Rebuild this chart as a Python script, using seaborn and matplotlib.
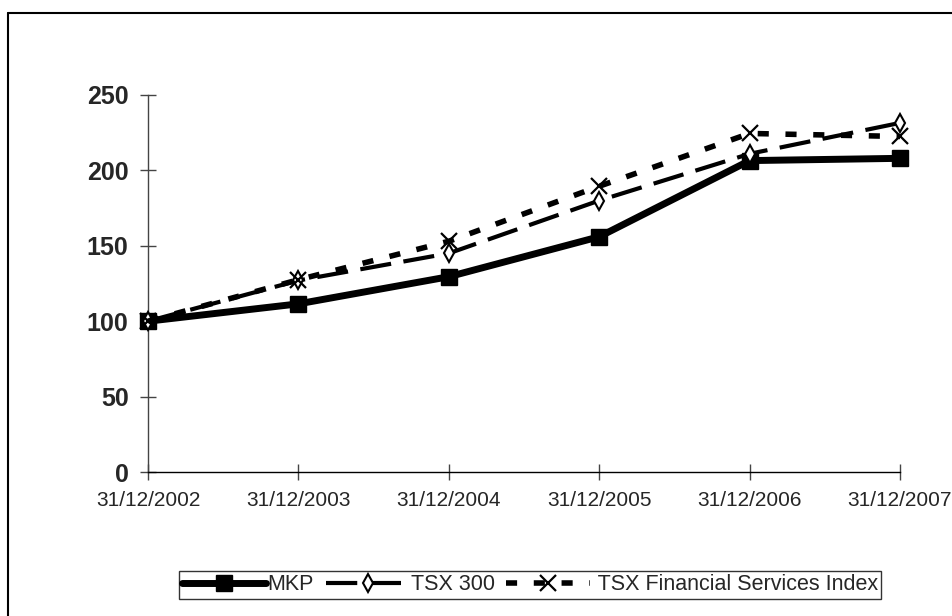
import matplotlib
matplotlib.use("Agg")
import matplotlib.pyplot as plt
import numpy as np
import pandas as pd
import seaborn as sns
from matplotlib.lines import Line2D

DATES = ["31/12/2002", "31/12/2003", "31/12/2004", "31/12/2005", "31/12/2006", "31/12/2007"]
MKP = [100, 111.5, 129.5, 156, 206.5, 208]
TSX_300 = [100, 127, 145, 180, 211, 231.5]
TSX_FIN = [100, 127.5, 153, 189.5, 224.5, 222.5]
SERIES = ["MKP", "TSX 300", "TSX Financial Services Index"]
LEGEND_LABELS = ["MKP", "TSX 300", " TSX Financial Services Index"]
YTICKS = [0, 50, 100, 150, 200, 250]

STYLES = {
    "MKP": dict(lw=5, ls="-", marker="s", ms=11, mfc="black", mec="black", mew=1),
    "TSX 300": dict(lw=3, ls=(0, (7.5, 3)), marker="d", ms=9, mfc="white", mec="black", mew=1.5),
    "TSX Financial Services Index": dict(lw=4, ls=(0, (2, 3)), marker="x", ms=11, mfc="black", mec="black", mew=1.6),
}

df = pd.DataFrame({
    "pos": list(range(len(DATES))) * 3,
    "value": MKP + TSX_300 + TSX_FIN,
    "series": [s for s in SERIES for _ in DATES],
})

sns.set_theme(style="white")
plt.rcParams["font.family"] = ["Liberation Sans", "DejaVu Sans"]

fig = plt.figure(figsize=(9.53, 6.16), dpi=100)
ax = fig.add_axes([148 / 953, 1 - 472 / 616, 752 / 953, 377 / 616])

sns.lineplot(data=df, x="pos", y="value", hue="series", hue_order=SERIES,
             palette=["black"] * 3, legend=False, ax=ax)
for line, name in zip(ax.get_lines(), SERIES):
    st = STYLES[name]
    line.set_linewidth(st["lw"])
    line.set_linestyle(st["ls"])
    line.set_marker(st["marker"])
    line.set_markersize(st["ms"])
    line.set_markerfacecolor(st["mfc"])
    line.set_markeredgecolor(st["mec"])
    line.set_markeredgewidth(st["mew"])
    line.set_clip_on(False)
    line.set_zorder(3 if name != "MKP" else 2)

ax.set_xlim(0, len(DATES) - 1)
ax.set_ylim(0, 250)
ax.set_yticks(YTICKS)
ax.set_xticks(range(len(DATES)))
ax.set_xticklabels(DATES, fontsize=15)
ax.set_yticklabels([str(v) for v in YTICKS], fontsize=18, fontweight="bold")
ax.set_xlabel("")
ax.set_ylabel("")
for s in ["top", "right"]:
    ax.spines[s].set_visible(False)
ax.spines["left"].set_color("#444444")
ax.spines["bottom"].set_color("black")
for s in ["left", "bottom"]:
    ax.spines[s].set_linewidth(1.0)
ax.tick_params(axis="both", direction="inout", length=12, width=1, color="#444444",
               bottom=True, left=True)
ax.tick_params(axis="x", pad=8)
ax.tick_params(axis="y", pad=8)

handles = []
for name in SERIES:
    st = STYLES[name]
    handles.append(Line2D([], [], color="black", lw=st["lw"], ls=st["ls"],
                          marker=st["marker"], ms=st["ms"], mfc=st["mfc"],
                          mec=st["mec"], mew=st["mew"]))
leg = fig.legend(handles, LEGEND_LABELS, loc="center", ncol=3,
                 bbox_to_anchor=(530 / 953, 1 - 585 / 616), frameon=True,
                 fancybox=False, edgecolor="black", fontsize=15.5,
                 handlelength=3.9, handletextpad=0.05, columnspacing=0.55,
                 borderpad=0.15, borderaxespad=0)
leg.get_frame().set_linewidth(1.0)

# outer chart frame (only the left and top edges fall inside the image)
fig.add_artist(Line2D([8 / 953, 8 / 953], [0, 1 - 13 / 616], color="black", lw=1.5,
                      transform=fig.transFigure))
fig.add_artist(Line2D([8 / 953, 1], [1 - 13 / 616, 1 - 13 / 616], color="black", lw=1.5,
                      transform=fig.transFigure))

fig.savefig("out.png", dpi=100)
